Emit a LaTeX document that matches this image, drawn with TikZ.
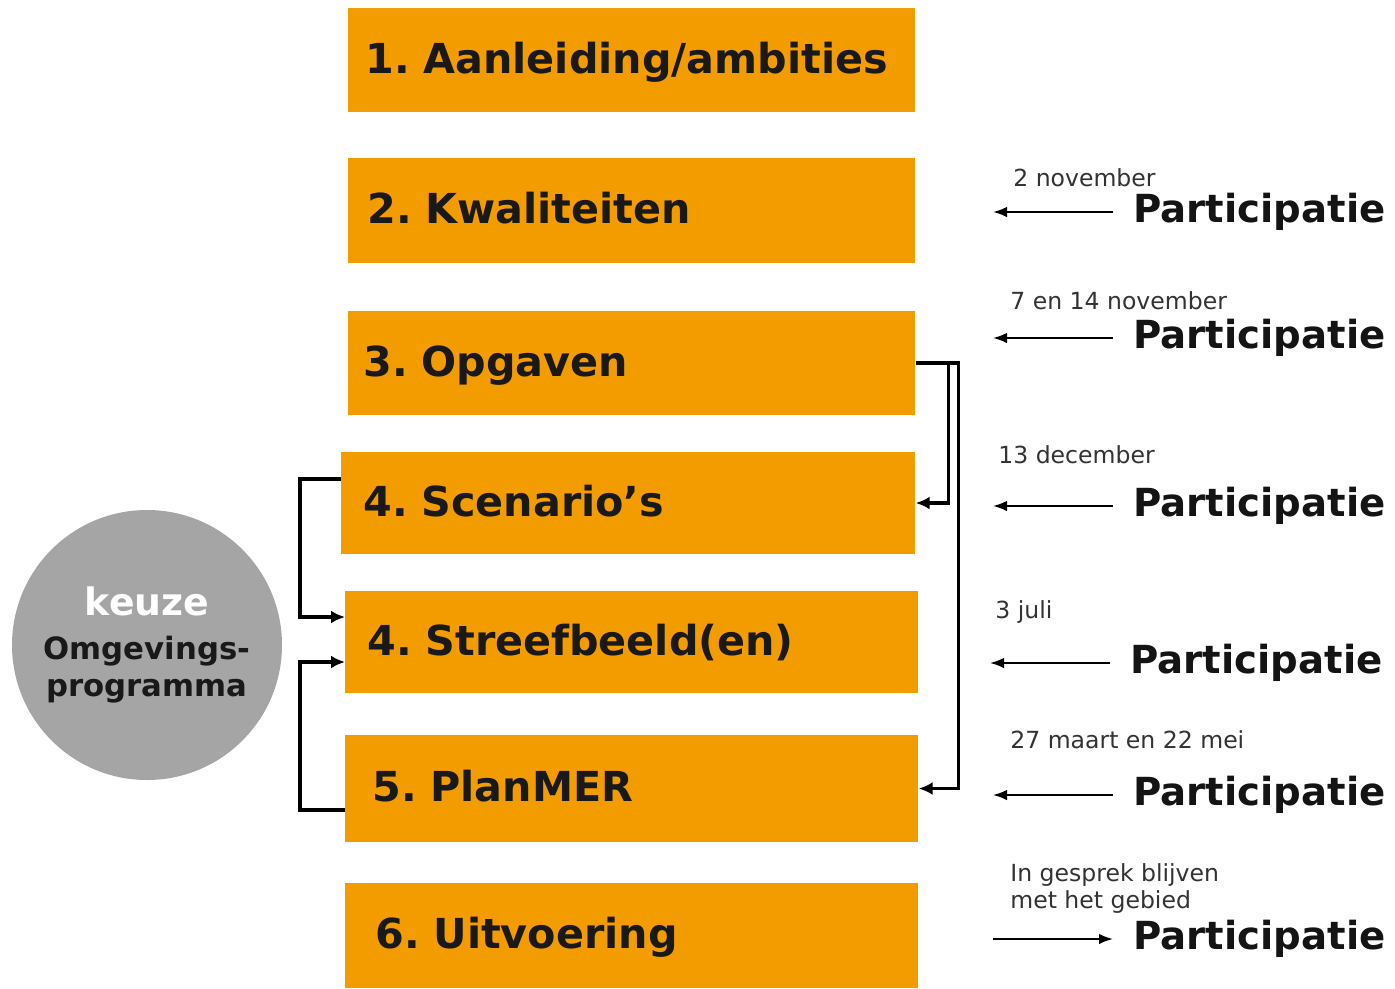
\documentclass[tikz,border=0pt]{standalone}
\usepackage{fontspec}
\setmainfont{DejaVu Sans}
\usetikzlibrary{positioning,arrows.meta}
\definecolor{oranje}{RGB}{243,156,0}
\definecolor{cirkelgrijs}{RGB}{165,165,165}
\frenchspacing
\tikzset{
  stap/.style={fill=oranje, anchor=west, minimum height=2.08cm, text width=10.66cm,
    inner xsep=0.34cm, text height=17.6pt, text depth=2.4pt, align=left, text=black!90,
    font=\fontsize{23.5}{27}\selectfont\bfseries},
  verbind/.style={line width=2pt, -{Latex[length=2.8mm,width=2.6mm]}},
  pijl/.style={line width=1.1pt, -{Latex[length=2.8mm,width=2.1mm]}},
  part/.style={anchor=west, inner sep=0pt, text=black!92, font=\fontsize{22}{26}\selectfont\bfseries},
  datum/.style={anchor=west, inner sep=0pt, align=left, text=black!80, font=\fontsize{13.4}{15.4}\selectfont}
}

\begin{document}
\begin{tikzpicture}
    \useasboundingbox (0,0) rectangle (27.9,-19.76);
    % stappen
    \node[stap] (b1) at (6.96,-1.2) {1. Aanleiding/ambities};
    \node[stap, minimum height=2.1cm, inner xsep=0.38cm, text width=10.58cm] (b2) at (6.96,-4.21) {2. Kwaliteiten};
    \node[stap, inner xsep=0.3cm, text width=10.74cm] (b3) at (6.96,-7.26) {3. Opgaven};
    \node[stap, minimum height=2.04cm, inner xsep=0.44cm, text width=10.6cm] (b4a) at (6.82,-10.06) {4. Scenario's};
    \node[stap, minimum height=2.04cm, inner xsep=0.44cm, text width=10.58cm] (b4b) at (6.9,-12.84) {4. Streefbeeld(en)};
    \node[stap, minimum height=2.14cm, inner xsep=0.54cm, text width=10.38cm] (b5) at (6.9,-15.77) {5. PlanMER};
    \node[stap, minimum height=2.1cm, inner xsep=0.6cm, text width=10.26cm] (b6) at (6.9,-18.71) {6. Uitvoering};

    % keuze
    \node[circle, fill=cirkelgrijs, minimum size=5.4cm, inner sep=0pt, align=center,
      text=black!90, font=\fontsize{17.5}{21}\selectfont\bfseries] (keuze) at (2.94,-12.9)
      {\textcolor{white}{\fontsize{21.5}{21}\selectfont keuze}\\[4.5pt]Omgevings-\\programma};

    % terugkoppelingen
    \draw[verbind] (b3.east) -- ++(0.66,0) |- (b4a.east);
    \draw[verbind] (b3.east) -- ++(0.86,0) |- (b5.east);
    \draw[verbind] ([yshift=4.8mm]b4a.west) -- ++(-0.82,0) |- ([yshift=5mm]b4b.west);
    \draw[verbind] ([yshift=-4.3mm]b5.west) -- ++(-0.9,0) |- ([yshift=-4mm]b4b.west);

    % participatie
    \node[part] (p2) at (22.66,-4.24) {Participatie};
    \node[part] (p3) at (22.66,-6.76) {Participatie};
    \node[part] (p4) at (22.66,-10.12) {Participatie};
    \node[part] (p5) at (22.6,-13.26) {Participatie};
    \node[part] (p6) at (22.66,-15.9) {Participatie};
    \node[part] (p7) at (22.66,-18.78) {Participatie};
    \node[datum] (d2) at (20.26,-3.56) {2 november};
    \node[datum] (d3) at (20.2,-6.02) {7 en 14 november};
    \node[datum] (d4) at (19.96,-9.1) {13 december};
    \node[datum] (d5) at (19.9,-12.24) {3 juli};
    \node[datum] (d6) at (20.2,-14.8) {27 maart en 22 mei};
    \node[datum] (d7) at (20.2,-17.77) {In gesprek blijven\\met het gebied};
    \coordinate[left=2.8cm of p2] (q2);
    \coordinate[left=2.8cm of p3] (q3);
    \coordinate[left=2.8cm of p4] (q4);
    \coordinate[left=2.8cm of p5] (q5);
    \coordinate[left=2.8cm of p6] (q6);
    \coordinate[left=2.8cm of p7] (q7);
    \draw[pijl] ([xshift=-4mm]p2.west) -- (q2);
    \draw[pijl] ([xshift=-4mm]p3.west) -- (q3);
    \draw[pijl] ([xshift=-4mm]p4.west) -- (q4);
    \draw[pijl] ([xshift=-4mm]p5.west) -- (q5);
    \draw[pijl] ([xshift=-4mm]p6.west) -- (q6);
    \draw[pijl] (q7) -- ([xshift=-4mm]p7.west);
\end{tikzpicture}
\end{document}
